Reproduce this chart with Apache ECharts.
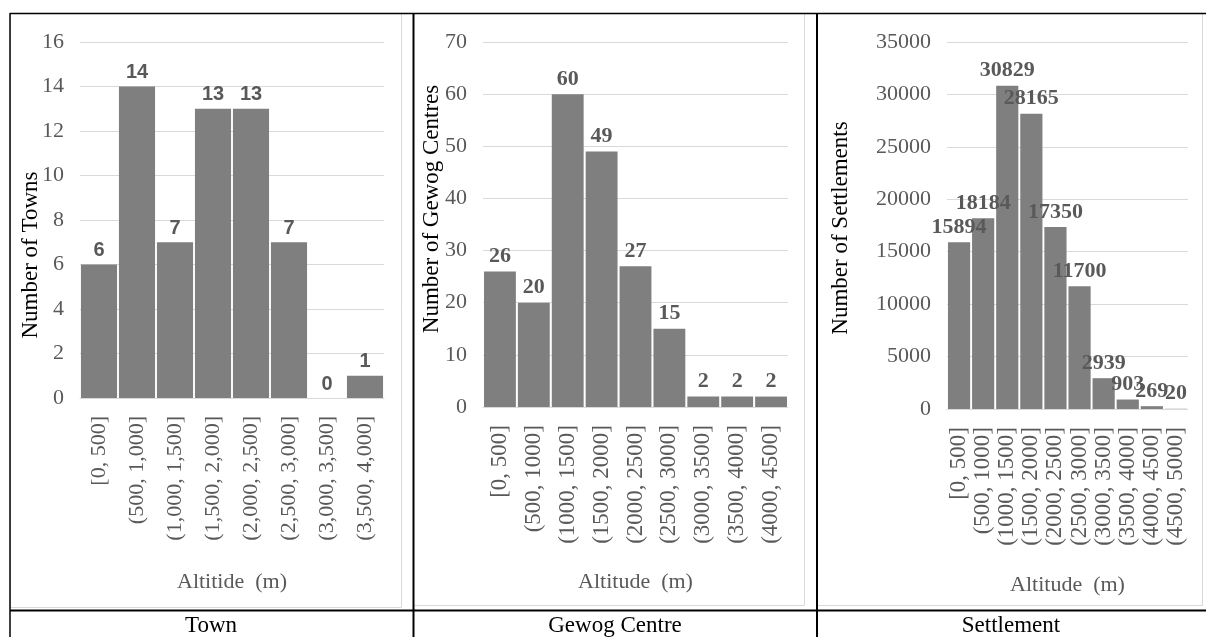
<!DOCTYPE html>
<html>
<head>
<meta charset="utf-8">
<script src="https://cdn.jsdelivr.net/npm/echarts@6/dist/echarts.min.js"></script>
<style>
html,body{margin:0;padding:0;background:#fff;}
#c{width:1206px;height:637px;}
</style>
</head>
<body>
<div id="c"></div>
<script>
// ---- data ----
var townCategories = ['[0, 500]','(500, 1,000]','(1,000, 1,500]','(1,500, 2,000]','(2,000, 2,500]','(2,500, 3,000]','(3,000, 3,500]','(3,500, 4,000]'];
var townValues = [6, 14, 7, 13, 13, 7, 0, 1];

var gewogCategories = ['[0, 500]','(500, 1000]','(1000, 1500]','(1500, 2000]','(2000, 2500]','(2500, 3000]','(3000, 3500]','(3500, 4000]','(4000, 4500]'];
var gewogValues = [26, 20, 60, 49, 27, 15, 2, 2, 2];

var settlementCategories = ['[0, 500]','(500, 1000]','(1000, 1500]','(1500, 2000]','(2000, 2500]','(2500, 3000]','(3000, 3500]','(3500, 4000]','(4000, 4500]','(4500, 5000]'];
var settlementValues = [15894, 18184, 30829, 28165, 17350, 11700, 2939, 903, 269, 20];

var panelTitles = ['Town', 'Gewog Centre', 'Settlement'];
var yTitles = ['Number of Towns', 'Number of Gewog Centres', 'Number of Settlements'];
var xTitles = ['Altitide  (m)', 'Altitude  (m)', 'Altitude  (m)'];

// ---- styles ----
var SERIF = "'Liberation Serif','Times New Roman',serif";
var SANS = "'Liberation Sans',Arial,sans-serif";
var GRAY = '#595959';
var GRID = '#d9d9d9';
var BAR = '#7f7f7f';

var chart = echarts.init(document.getElementById('c'), null, {renderer: 'canvas'});

function xAxisCfg(idx, cats, name, gap, size) {
  return {
    type: 'category', gridIndex: idx, data: cats,
    axisLine: {show: true, lineStyle: {color: GRID, width: 1}},
    axisTick: {show: false},
    axisLabel: {interval: 0, rotate: 90, margin: 18, color: GRAY, fontFamily: SERIF, fontSize: size},
    name: name, nameLocation: 'middle', nameGap: gap,
    nameTextStyle: {color: GRAY, fontFamily: SERIF, fontSize: 22}
  };
}
function yAxisCfg(idx, max, interval) {
  return {
    type: 'value', gridIndex: idx, min: 0, max: max, interval: interval,
    axisLine: {show: false}, axisTick: {show: false},
    splitLine: {show: true, lineStyle: {color: GRID, width: 1}},
    axisLabel: {margin: 16, color: GRAY, fontFamily: SERIF, fontSize: 22, formatter: function (v) { return String(v); }}
  };
}
function barCfg(idx, data, gap, labelFont, labelSize) {
  return {
    type: 'bar', xAxisIndex: idx, yAxisIndex: idx, data: data,
    barCategoryGap: gap,
    itemStyle: {color: BAR},
    label: {show: true, position: 'top', distance: 4, color: GRAY, fontWeight: 'bold', fontFamily: labelFont, fontSize: labelSize},
    emphasis: {disabled: true},
    animation: false
  };
}

var option = {
  animation: false,
  grid: [
    {left: 80, right: 1206 - 384, top: 42, bottom: 637 - 398},
    {left: 483, right: 1206 - 788, top: 42, bottom: 637 - 407},
    {left: 947, right: 1206 - 1188, top: 42, bottom: 637 - 409}
  ],
  xAxis: [
    xAxisCfg(0, townCategories, xTitles[0], 173, 22),
    xAxisCfg(1, gewogCategories, xTitles[1], 164, 23),
    xAxisCfg(2, settlementCategories, xTitles[2], 165, 23)
  ],
  yAxis: [
    yAxisCfg(0, 16, 2),
    yAxisCfg(1, 70, 10),
    yAxisCfg(2, 35000, 5000)
  ],
  series: [
    barCfg(0, townValues, '5%', SANS, 20),
    barCfg(1, gewogValues, '6%', SERIF, 22),
    barCfg(2, settlementValues, '8%', SERIF, 22)
  ],
  graphic: [
    // chart-area frames
    {type: 'rect', shape: {x: 10.5, y: 13.5, width: 391, height: 594}, style: {fill: null, stroke: GRID, lineWidth: 1}, silent: true},
    {type: 'rect', shape: {x: 413.5, y: 13.5, width: 391, height: 592}, style: {fill: null, stroke: GRID, lineWidth: 1}, silent: true},
    {type: 'rect', shape: {x: 817.5, y: 13.5, width: 385, height: 592}, style: {fill: null, stroke: GRID, lineWidth: 1}, silent: true},
    // table lines
    {type: 'line', shape: {x1: 10, y1: 13.5, x2: 1206, y2: 13.5}, style: {stroke: '#000', lineWidth: 1.5}, silent: true},
    {type: 'line', shape: {x1: 10, y1: 13, x2: 10, y2: 637}, style: {stroke: '#000', lineWidth: 1.5}, silent: true},
    {type: 'line', shape: {x1: 413.5, y1: 13, x2: 413.5, y2: 637}, style: {stroke: '#000', lineWidth: 2}, silent: true},
    {type: 'line', shape: {x1: 817, y1: 13, x2: 817, y2: 637}, style: {stroke: '#000', lineWidth: 2}, silent: true},
    {type: 'line', shape: {x1: 10, y1: 610.5, x2: 1206, y2: 610.5}, style: {stroke: '#000', lineWidth: 2}, silent: true},
    // y-axis titles
    {type: 'text', x: 31, y: 255, rotation: Math.PI / 2, style: {text: yTitles[0], fill: '#000', font: '23px ' + SERIF, align: 'center', verticalAlign: 'middle'}, silent: true},
    {type: 'text', x: 432, y: 209, rotation: Math.PI / 2, style: {text: yTitles[1], fill: '#000', font: '23px ' + SERIF, align: 'center', verticalAlign: 'middle'}, silent: true},
    {type: 'text', x: 841, y: 228, rotation: Math.PI / 2, style: {text: yTitles[2], fill: '#000', font: '23px ' + SERIF, align: 'center', verticalAlign: 'middle'}, silent: true},
    // panel captions
    {type: 'text', x: 211, y: 614, style: {text: panelTitles[0], fill: '#000', font: '23px ' + SERIF, align: 'center', verticalAlign: 'top'}, silent: true},
    {type: 'text', x: 615, y: 614, style: {text: panelTitles[1], fill: '#000', font: '23px ' + SERIF, align: 'center', verticalAlign: 'top'}, silent: true},
    {type: 'text', x: 1011, y: 614, style: {text: panelTitles[2], fill: '#000', font: '23px ' + SERIF, align: 'center', verticalAlign: 'top'}, silent: true}
  ]
};
chart.setOption(option);
</script>
</body>
</html>
